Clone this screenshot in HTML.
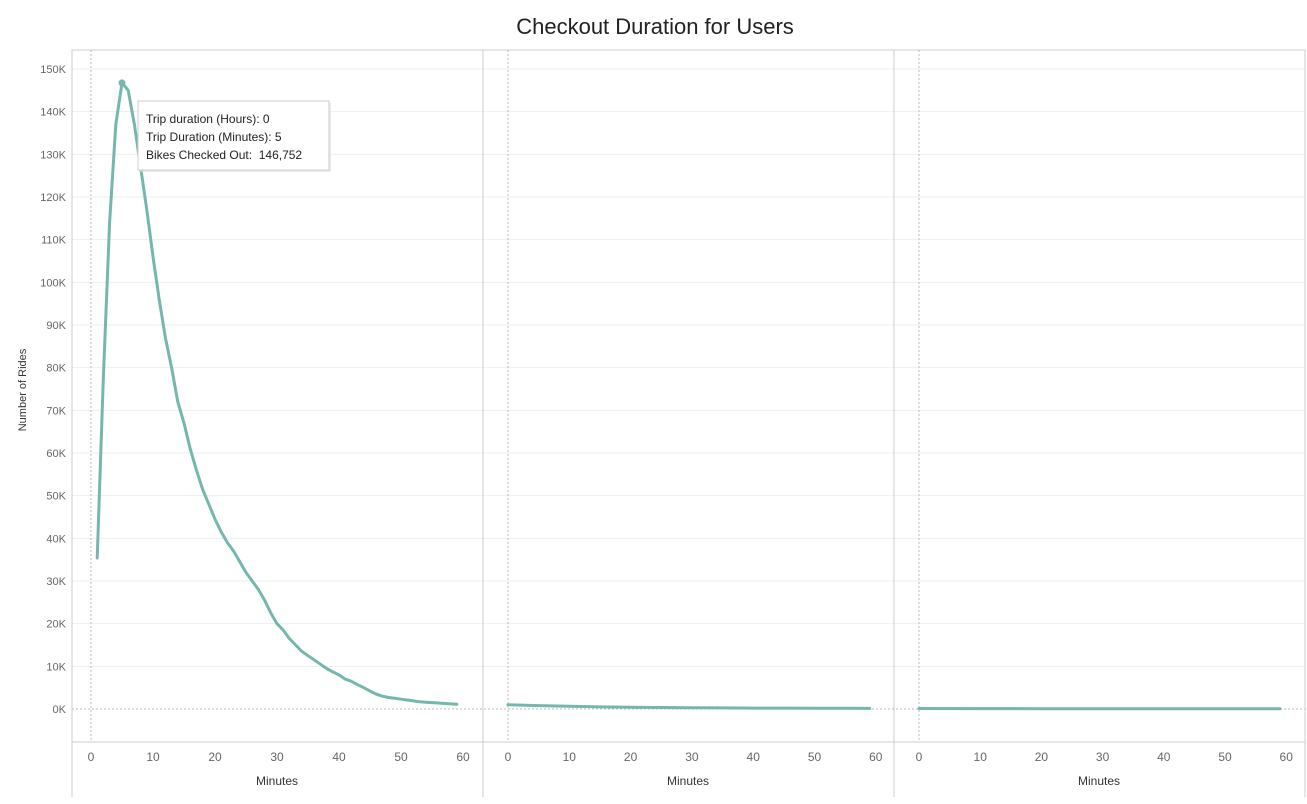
<!DOCTYPE html>
<html><head><meta charset="utf-8"><style>
body{margin:0;background:#fff;font-family:"Liberation Sans",sans-serif;}
svg{display:block}
</style></head><body>
<svg id="c" width="1307" height="804">
<text x="655" y="34" text-anchor="middle" font-size="22" fill="#222">Checkout Duration for Users</text>
<text transform="translate(26,390) rotate(-90)" text-anchor="middle" font-size="11" fill="#333">Number of Rides</text>
</svg>
<script>
const yTicks=[0,10,20,30,40,50,60,70,80,90,100,110,120,130,140,150];
const xTicks=[0,10,20,30,40,50,60];
const panel1Minutes=[1,2,3,4,5,6,7,8,9,10,11,12,13,14,15,16,17,18,19,20,21,22,23,24,25,26,27,28,29,30,31,32,33,34,35,36,37,38,39,40,41,42,43,44,45,46,47,48,49,50,51,52,53,54,55,56,57,58,59];
const panel1Rides=[35.4,78,114,137,146.752,145,137,127,117,106,96,87,80,72,67,61,56,51.5,48,44.5,41.5,39,37,34.5,32,30,28,25.5,22.5,20,18.5,16.5,15,13.5,12.5,11.5,10.5,9.5,8.7,8,7,6.5,5.7,5,4.2,3.5,3,2.7,2.5,2.3,2.1,1.9,1.7,1.6,1.5,1.4,1.3,1.2,1.1];
const panel2Minutes=[0,5,10,15,20,25,30,35,40,45,50,55,59];
const panel2Rides=[1.0,0.8,0.65,0.5,0.4,0.35,0.3,0.25,0.22,0.2,0.18,0.16,0.15];
const panel3Minutes=[0,10,20,30,40,50,59];
const panel3Rides=[0.12,0.1,0.08,0.07,0.06,0.05,0.04];
const panels=[{left:72,origin:91,scale:6.2,minutes:panel1Minutes,rides:panel1Rides},{left:483,origin:508,scale:6.13,minutes:panel2Minutes,rides:panel2Rides},{left:894,origin:919,scale:6.12,minutes:panel3Minutes,rides:panel3Rides}];
const NS="http://www.w3.org/2000/svg",svg=document.getElementById('c');
const plotTop=50,plotBot=742;
const yS=v=>709-v*(640/150);
function mk(t,a,p){const e=document.createElementNS(NS,t);for(const k in a)e.setAttribute(k,a[k]);(p||svg).appendChild(e);return e;}
yTicks.forEach(v=>{
  if(v>0){const g=mk('line',{x1:72,x2:1305,y1:yS(v),y2:yS(v),stroke:'#eeeeee'});
  
  }
  const t=mk('text',{x:66,y:yS(v)+4,'text-anchor':'end','font-size':11,fill:'#666'});t.textContent=v+'K';
  
  
});
const zl=mk('line',{x1:72,x2:1305,y1:709,y2:709,stroke:'#bbb','stroke-dasharray':'2,2'});


const pb=mk('rect',{x:72,y:plotTop,width:1233,height:plotBot-plotTop,fill:'none',stroke:'#ccc'});


panels.forEach((p,i)=>{
  const xS=m=>p.origin+m*p.scale;
  if(i>0){const d=mk('line',{x1:p.left,x2:p.left,y1:plotTop,y2:797,stroke:'#ccc'});
  
  }
  const xz=mk('line',{x1:p.origin,x2:p.origin,y1:plotTop,y2:plotBot,stroke:'#bbb','stroke-dasharray':'2,2'});
  
  
  xTicks.forEach(v=>{const t=mk('text',{x:xS(v),y:761,'text-anchor':'middle','font-size':12,fill:'#666'});t.textContent=v;
    
    });
  const xt=mk('text',{x:p.left+205,y:785,'text-anchor':'middle','font-size':12,fill:'#333'});xt.textContent='Minutes';
  
  
  const d=p.minutes.map((m,j)=>(j?'L':'M')+xS(m).toFixed(1)+','+yS(p.rides[j]).toFixed(1)).join('');
  const l=mk('path',{d:d,fill:'none',stroke:'#76b7ad','stroke-width':3,'stroke-linejoin':'round','stroke-linecap':'round'});
  
  
  if(i==0){const k=p.rides.indexOf(Math.max(...p.rides));
    const c=mk('circle',{cx:xS(p.minutes[k]),cy:yS(p.rides[k]),r:3.5,fill:'#76b7ad'});
    
    }
});
mk('line',{x1:1305,x2:1305,y1:plotBot,y2:797,stroke:'#ccc'});
mk('line',{x1:72,x2:72,y1:plotBot,y2:797,stroke:'#ccc'});
const tg=mk('g',{});


mk('rect',{x:140,y:103,width:191,height:69,fill:'#ddd',opacity:0.6},tg);
mk('rect',{x:138,y:101,width:191,height:69,fill:'#fff',stroke:'#ccc'},tg);
['Trip duration (Hours): 0','Trip Duration (Minutes): 5','Bikes Checked Out:  146,752'].forEach((s,i)=>{
  const t=mk('text',{x:146,y:123+i*18,'font-size':12,fill:'#222',style:'white-space:pre'},tg);t.textContent=s;});
</script>
</body></html>
